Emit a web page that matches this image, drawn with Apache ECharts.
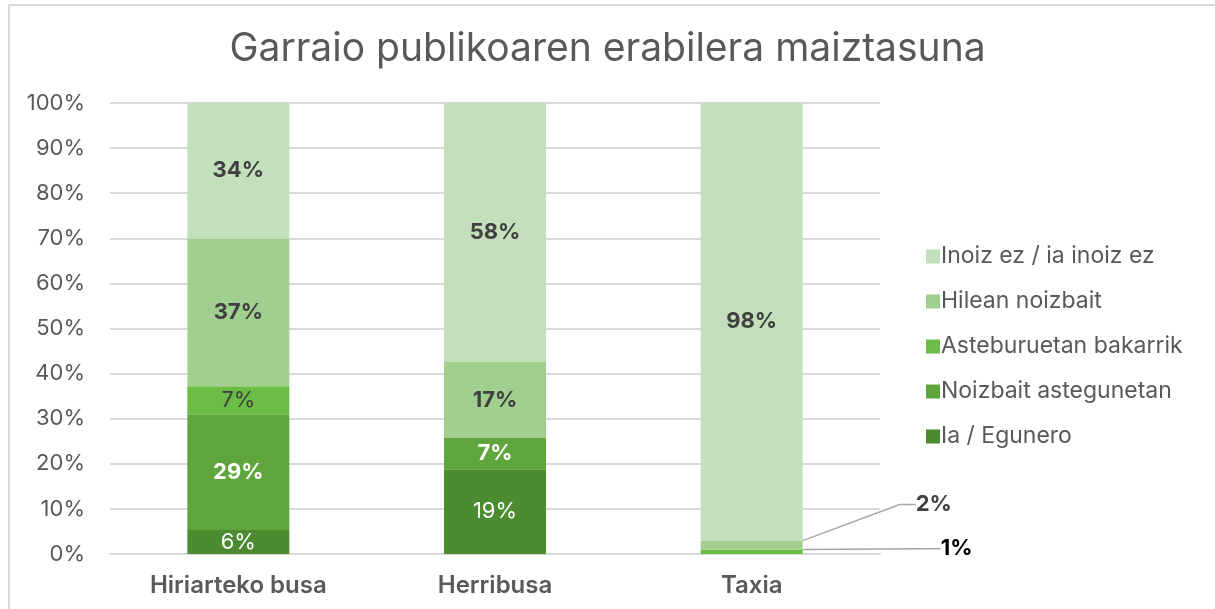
<!DOCTYPE html>
<html>
<head>
<meta charset="utf-8">
<script src="https://cdn.jsdelivr.net/npm/echarts@6/dist/echarts.min.js"></script>
<style>
    html, body { margin: 0; padding: 0; background: #fff; }
    #main { position: absolute; left: 0; top: 0; width: 1215px; height: 609px; }
    #frame { position: absolute; left: 8px; top: 4px; width: 1220px; height: 620px; border: 2px solid #d9d9d9; box-sizing: border-box; pointer-events: none; }
</style>
</head>
<body>
<div id="main"></div>
<div id="frame"></div>
<script>
// categories and series (bottom to top of the stack)
const categories = ['Hiriarteko busa', 'Herribusa', 'Taxia']
const seriesNames = ['Ia / Egunero', 'Noizbait astegunetan', 'Asteburuetan bakarrik', 'Hilean noizbait', 'Inoiz ez / ia inoiz ez']

// raw values as labelled (%), the chart is drawn as 100% stacked
const iaEgunero = [6, 19, 0]
const noizbaitAstegunetan = [29, 7, 0]
const asteburuetanBakarrik = [7, 0, 1]
const hileanNoizbait = [37, 17, 2]
const inoizEz = [34, 58, 98]

const yTicks = [0, 10, 20, 30, 40, 50, 60, 70, 80, 90, 100]

const colors = ['#4c8b30', '#5ea63c', '#6cbd45', '#a0cf8f', '#c3dfbc']
const rawSeries = [iaEgunero, noizbaitAstegunetan, asteburuetanBakarrik, hileanNoizbait, inoizEz]

const totals = categories.map((c, i) => rawSeries.reduce((s, arr) => s + arr[i], 0))

const labelBase = [
    { color: '#ffffff', fontWeight: 'normal' },
    { color: '#ffffff', fontWeight: 'bold' },
    { color: '#404040', fontWeight: 'normal' },
    { color: '#404040', fontWeight: 'bold' },
    { color: '#404040', fontWeight: 'bold' }
]

// labels of the tiny taxi slices are pulled out to the right
const outside = {
    '2-2': { dx: 138, dy: 0, color: '#000000' },
    '3-2': { dx: 113, dy: -36, color: '#404040' }
}

let chartDom = document.getElementById('main')
let myChart = echarts.init(chartDom)

const series = rawSeries.map((arr, si) => ({
    name: seriesNames[si],
    type: 'bar',
    stack: 'total',
    barWidth: 102,
    itemStyle: { color: colors[si] },
    label: {
        show: true,
        position: 'inside',
        fontFamily: 'Inter',
        fontSize: 22,
        color: labelBase[si].color,
        fontWeight: labelBase[si].fontWeight,
        formatter: (p) => arr[p.dataIndex] + '%'
    },
    labelLine: {
        show: true,
        length2: 16,
        lineStyle: { color: '#a6a6a6', width: 1.5 }
    },
    labelLayout: (p) => {
        const o = outside[si + '-' + p.dataIndex]
        if (!o) return {}
        return {
            x: p.rect.x + p.rect.width + o.dx,
            y: p.rect.y + (o.dy < 0 ? o.dy : p.rect.height / 2 - 3),
            align: 'left',
            verticalAlign: 'middle'
        }
    },
    data: arr.map((v, ci) => {
        const key = si + '-' + ci
        const item = {
            value: v > 0 ? (v / totals[ci]) * 100 : null
        }
        if (outside[key]) {
            item.label = { color: outside[key].color, fontWeight: 'bold' }
        }
        return item
    })
}))

let option = {
    animation: false,
    backgroundColor: 'transparent',
    title: {
        text: 'Garraio publikoaren erabilera maiztasuna',
        left: 'center',
        top: 25,
        textStyle: {
            fontFamily: 'Inter',
            fontSize: 39,
            fontWeight: 'normal',
            color: '#595959'
        }
    },
    legend: {
        orient: 'vertical',
        left: 921,
        top: 240,
        itemWidth: 14,
        itemHeight: 14,
        itemGap: 22,
        icon: 'rect',
        data: seriesNames.slice().reverse(),
        textStyle: {
            fontFamily: 'Inter',
            fontSize: 23,
            lineHeight: 22,
            color: '#595959',
            padding: [0, 0, 0, -4]
        }
    },
    grid: {
        left: 110,
        right: 335,
        top: 103,
        bottom: 55
    },
    xAxis: {
        type: 'category',
        data: categories,
        axisTick: { show: false },
        axisLine: { lineStyle: { color: '#d9d9d9', width: 2 } },
        axisLabel: {
            margin: 20,
            fontFamily: 'Inter',
            fontSize: 24,
            fontWeight: 600,
            color: '#595959'
        }
    },
    yAxis: {
        type: 'value',
        min: yTicks[0],
        max: yTicks[yTicks.length - 1],
        interval: yTicks[1] - yTicks[0],
        axisLine: { show: false },
        axisTick: { show: false },
        splitLine: { lineStyle: { color: '#d9d9d9', width: 2 } },
        axisLabel: {
            margin: 25,
            fontFamily: 'Inter',
            fontSize: 22,
            color: '#595959',
            formatter: '{value}%'
        }
    },
    series: series
}

option && myChart.setOption(option)
</script>
</body>
</html>
